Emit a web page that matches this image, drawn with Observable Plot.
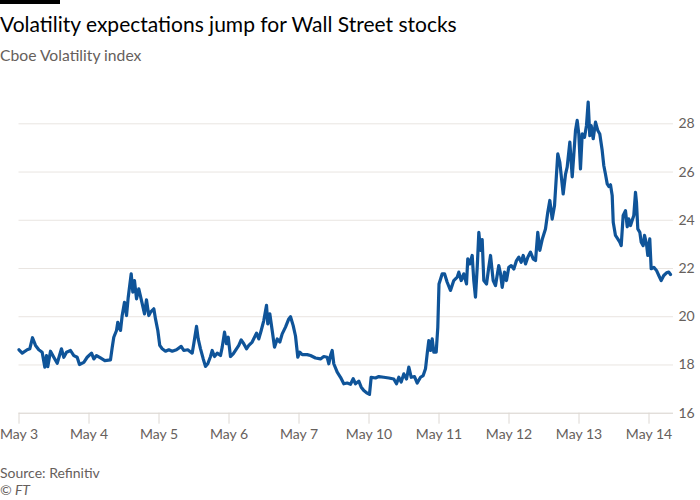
<!DOCTYPE html>
<html>
<head>
<meta charset="utf-8">
<script src="https://cdn.jsdelivr.net/npm/d3@7"></script>
<script src="https://cdn.jsdelivr.net/npm/@observablehq/plot@0.6"></script>
<style>
  html, body { margin: 0; padding: 0; background: #ffffff; }
  body { width: 700px; height: 500px; position: relative; overflow: hidden; font-family: Lato, "Noto Sans", sans-serif; }
  .bar { position: absolute; left: 0; top: 0; width: 60px; height: 4px; background: #000; }
  .title { position: absolute; left: 0; top: 12px; font-size: 21px; line-height: 24px; color: #000; white-space: nowrap; }
  .subtitle { position: absolute; left: 0; top: 45px; font-size: 15.7px; line-height: 20px; color: #66605c; white-space: nowrap; }
  #chart { position: absolute; left: 0; top: 80px; }
  .source { position: absolute; left: 0; top: 464px; font-size: 14px; line-height: 18px; color: #66605c; }
  .credit { position: absolute; left: 0; top: 481px; font-size: 14px; line-height: 18px; color: #66605c; font-style: italic; }
</style>
</head>
<body>
<div class="bar"></div>
<div class="title">Volatility expectations jump for Wall Street stocks</div>
<div class="subtitle">Cboe Volatility index</div>
<div id="chart"></div>
<div class="source">Source: Refinitiv</div>
<div class="credit">© FT</div>
<script>
const dayLabels = ["May 3", "May 4", "May 5", "May 6", "May 7", "May 10", "May 11", "May 12", "May 13", "May 14"];
const dayTicks = [0, 1, 2, 3, 4, 5, 6, 7, 8, 9];
const yTicks = [16, 18, 20, 22, 24, 26, 28];

// trading-session time (days since May 3 open)
const sessionTime = [
  0, 0.046, 0.117, 0.154, 0.193, 0.236, 0.283, 0.331, 0.369, 0.393, 0.411, 0.45, 0.497, 0.546, 0.607, 0.64, 0.679, 0.736, 0.783, 0.831, 0.864, 0.926, 0.974,
  1.036, 1.069, 1.107, 1.164, 1.226, 1.307, 1.331, 1.354, 1.393, 1.411, 1.45, 1.474, 1.507, 1.536, 1.56, 1.603, 1.626, 1.65, 1.679, 1.711, 1.76, 1.793, 1.821, 1.854, 1.879, 1.926, 1.95, 1.983,
  2.011, 2.046, 2.093, 2.14, 2.189, 2.25, 2.317, 2.354, 2.411, 2.474, 2.497, 2.536, 2.56, 2.593, 2.631, 2.664, 2.697, 2.736, 2.76, 2.793, 2.831, 2.879, 2.903, 2.936, 2.964, 2.989,
  3.021, 3.06, 3.107, 3.14, 3.174, 3.211, 3.25, 3.283, 3.331, 3.393, 3.426, 3.46, 3.497, 3.536, 3.554, 3.583, 3.617, 3.65, 3.689, 3.726, 3.76, 3.807, 3.854, 3.879, 3.917, 3.95, 3.983,
  4.011, 4.046, 4.117, 4.164, 4.236, 4.307, 4.354, 4.403, 4.426, 4.45, 4.474, 4.497, 4.546, 4.593, 4.64, 4.689, 4.736, 4.774, 4.807, 4.854, 4.889, 4.926, 4.974,
  5.007, 5.031, 5.093, 5.14, 5.211, 5.283, 5.354, 5.393, 5.426, 5.46, 5.497, 5.536, 5.569, 5.603, 5.65, 5.689, 5.736, 5.774, 5.807, 5.831, 5.854, 5.879, 5.903, 5.926, 5.96, 5.983,
  6.0, 6.046, 6.079, 6.117, 6.164, 6.211, 6.26, 6.283, 6.317, 6.354, 6.393, 6.411, 6.44, 6.474, 6.497, 6.521, 6.546, 6.569, 6.593, 6.617, 6.64, 6.679, 6.711, 6.736, 6.774, 6.807, 6.854, 6.879, 6.903, 6.936, 6.964, 6.997,
  7.031, 7.069, 7.107, 7.14, 7.174, 7.203, 7.236, 7.269, 7.307, 7.346, 7.379, 7.411, 7.44, 7.474, 7.521, 7.554, 7.583, 7.617, 7.65, 7.679, 7.697, 7.726, 7.774, 7.807, 7.831, 7.869, 7.903, 7.926, 7.95, 7.974, 7.997,
  8.021, 8.046, 8.079, 8.107, 8.131, 8.154, 8.174, 8.203, 8.236, 8.269, 8.297, 8.331, 8.354, 8.379, 8.403, 8.426, 8.45, 8.474, 8.489, 8.521, 8.554, 8.583, 8.603, 8.631, 8.664, 8.689, 8.711, 8.736, 8.76, 8.783, 8.807, 8.821, 8.84, 8.869, 8.889, 8.917, 8.936, 8.964, 8.983,
  9.011, 9.031, 9.069, 9.107, 9.14, 9.174, 9.211, 9.25, 9.283, 9.307
];

// Cboe Volatility index level
const vix = [
  18.63, 18.49, 18.63, 18.67, 19.13, 18.81, 18.63, 18.53, 17.91, 18.39, 17.93, 18.57, 18.32, 18.07, 18.67, 18.32, 18.53, 18.6, 18.39, 18.32, 18.02, 18.11, 18.32,
  18.49, 18.25, 18.39, 18.29, 18.18, 18.21, 18.71, 19.15, 19.43, 19.77, 19.43, 20.05, 20.6, 20.05, 20.8, 21.78, 21.02, 21.5, 20.74, 21.16, 20.54, 20.12, 20.7, 20.05, 20.19, 20.33, 19.91, 19.43,
  18.81, 18.67, 18.57, 18.63, 18.57, 18.63, 18.77, 18.6, 18.63, 18.49, 18.88, 19.6, 19.08, 18.67, 18.26, 17.94, 18.05, 18.35, 18.6, 18.35, 18.49, 18.39, 18.74, 19.36, 18.88, 19.15,
  18.35, 18.46, 18.67, 18.81, 19.04, 18.88, 18.67, 18.81, 18.95, 19.32, 19.08, 19.43, 19.84, 20.47, 19.7, 20.12, 19.43, 18.74, 19.08, 18.95, 19.29, 19.57, 19.91, 20.0, 19.63, 19.2, 18.32,
  18.53, 18.43, 18.43, 18.39, 18.29, 18.25, 18.35, 18.32, 18.05, 18.39, 18.6, 18.05, 17.7, 17.49, 17.22, 17.25, 17.2, 17.43, 17.22, 17.33, 17.08, 16.94, 16.83,
  16.78, 17.49, 17.46, 17.52, 17.49, 17.46, 17.42, 17.22, 17.49, 17.29, 17.63, 17.42, 17.91, 17.49, 17.52, 17.25, 17.49, 17.56, 17.84, 18.46, 19.01, 18.6, 19.08, 18.53, 18.53, 19.57,
  21.36, 21.78, 21.78, 21.43, 21.09, 21.5, 21.64, 21.85, 21.5, 21.78, 21.36, 22.4, 22.19, 22.54, 21.5, 20.81, 22.05, 23.5, 22.75, 23.2, 21.5, 21.36, 22.05, 22.54, 21.5, 21.29, 22.12, 21.78, 21.22, 21.85, 21.5, 22.05,
  22.12, 21.98, 22.33, 22.47, 22.26, 22.54, 22.19, 22.47, 22.68, 22.4, 22.33, 23.5, 22.75, 23.2, 23.64, 24.33, 24.82, 24.05, 24.6, 25.93, 26.75, 26.4, 25.09, 25.9, 26.2, 27.24, 25.8, 26.72, 27.72, 28.14, 27.58,
  26.13, 27.58, 27.44, 27.93, 28.9, 27.51, 27.93, 27.38, 28.07, 27.72, 27.58, 26.9, 26.27, 25.9, 25.51, 25.4, 25.47, 25.03, 23.92, 23.37, 23.23, 23.09, 22.95, 24.2, 24.4, 23.73, 24.06, 23.78, 24.0, 24.2, 25.16, 24.75, 23.64, 23.5, 23.09, 22.95, 23.37, 23.02, 22.54,
  23.23, 21.99, 22.05, 21.92, 21.71, 21.5, 21.71, 21.82, 21.85, 21.75
];

const data = sessionTime.map((t, i) => ({t, v: vix[i]}));

const chart = Plot.plot({
  width: 700,
  height: 370,
  marginLeft: 18.5,
  marginRight: 27,
  marginTop: 43.3,
  marginBottom: 37.3,
  style: {fontSize: "14px", fontFamily: "Lato, 'Noto Sans', sans-serif", background: "transparent", color: "#66605c", overflow: "visible"},
  x: {domain: [0, 9.35]},
  y: {domain: [16, 28]},
  marks: [
    Plot.gridY(yTicks.filter(d => d > 16), {stroke: "#e9e5e1", strokeOpacity: 1, strokeWidth: 1}),
    Plot.ruleY([16], {stroke: "#d6d0ca", strokeWidth: 1}),
    Plot.axisX({ticks: dayTicks, tickFormat: i => dayLabels[i], tickSize: 11, tickPadding: 5, stroke: "#ddd8d3", fill: "#66605c", label: null}),
    Plot.axisY({anchor: "right", ticks: yTicks, tickSize: 0, tickPadding: 5, fill: "#66605c", label: null}),
    Plot.line(data, {x: "t", y: "v", stroke: "#0f5499", strokeWidth: 3.2, strokeLinejoin: "round", strokeLinecap: "round"})
  ]
});
document.getElementById("chart").appendChild(chart);
</script>
</body>
</html>
